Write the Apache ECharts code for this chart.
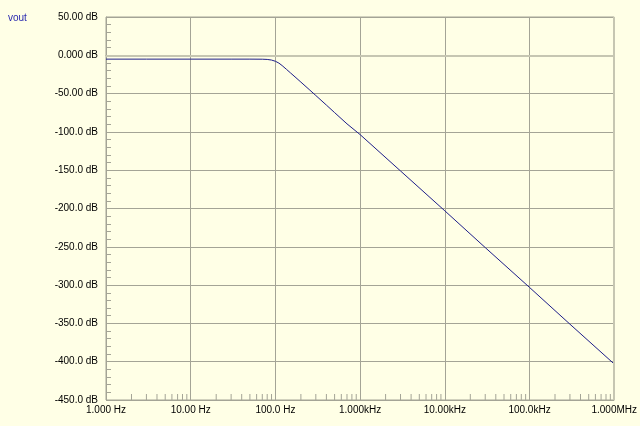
<!DOCTYPE html>
<html>
<head>
<meta charset="utf-8">
<script src="https://cdn.jsdelivr.net/npm/echarts@6/dist/echarts.min.js"></script>
<style>
html,body{margin:0;padding:0;background:#ffffe6;}
#c{width:640px;height:426px;}
</style>
</head>
<body>
<div id="c"></div>
<script>
// Frequency response (Hz, dB)
var freqs = [1, 3, 10, 30, 50, 70, 80, 90, 100, 110, 120, 135, 150, 175, 200, 250, 300, 400, 500, 700, 1000, 3000, 10000, 30000, 100000, 300000, 1000000];
var voutDb = [-5.0, -5.0, -5.0, -5.0, -5.0, -5.1, -5.4, -6.2, -7.8, -10.2, -13.4, -18.3, -22.8, -29.3, -35.0, -44.6, -52.5, -65.0, -74.8, -89.5, -103.5, -151.0, -203.0, -251.0, -303.0, -351.0, -403.0];
var seriesName = 'vout';
// Axis tick labels
var xTickValues = [1, 10, 100, 1000, 10000, 100000, 1000000];
var xTickLabels = ['1.000 Hz', '10.00 Hz', '100.0 Hz', '1.000kHz', '10.00kHz', '100.0kHz', '1.000MHz'];
var yTickValues = [50, 0, -50, -100, -150, -200, -250, -300, -350, -400, -450];
var yTickLabels = ['50.00 dB', '0.000 dB', '-50.00 dB', '-100.0 dB', '-150.0 dB', '-200.0 dB', '-250.0 dB', '-300.0 dB', '-350.0 dB', '-400.0 dB', '-450.0 dB'];
// Minor tick positions on the frequency axis (2..9 per decade)
var minorMult = [2, 3, 4, 5, 6, 7, 8, 9];
var decades = [1, 10, 100, 1000, 10000, 100000];

var minorFreqs = [];
decades.forEach(function (d) { minorMult.forEach(function (m) { minorFreqs.push([d * m]); }); });

var xLabelMap = {};
xTickValues.forEach(function (v, i) { xLabelMap[v] = xTickLabels[i]; });
var yLabelMap = {};
yTickValues.forEach(function (v, i) { yLabelMap[v] = yTickLabels[i]; });

var chart = echarts.init(document.getElementById('c'), null, {renderer: 'canvas'});
var gridColor = '#a4a496';
var font = '"Liberation Sans", Arial, sans-serif';

chart.setOption({
  backgroundColor: '#ffffe6',
  animation: false,
  graphic: [{
    type: 'text', left: 8, top: 13,
    style: {text: seriesName, fill: '#2a2ab0', font: '10px ' + font}
  }],
  grid: {left: 106, right: 25, top: 17, bottom: 26, show: true, borderColor: gridColor, borderWidth: 1},
  xAxis: {
    type: 'log', logBase: 10, min: 1, max: 1000000,
    axisLine: {show: true, lineStyle: {color: gridColor}},
    axisTick: {show: false},
    splitLine: {show: true, lineStyle: {color: gridColor, width: 1}},
    axisLabel: {
      color: '#000', fontSize: 10, fontFamily: font, margin: 5,
      formatter: function (v) { return xLabelMap[Math.round(v)] || ''; }
    }
  },
  yAxis: {
    type: 'value', min: -450, max: 50, interval: 50,
    axisLine: {show: true, lineStyle: {color: gridColor}},
    axisTick: {show: true, inside: true, length: 5, lineStyle: {color: gridColor}},
    minorTick: {show: true, splitNumber: 5, length: 5, lineStyle: {color: gridColor}},
    splitLine: {show: true, lineStyle: {color: gridColor, width: 1}},
    axisLabel: {
      color: '#000', fontSize: 10, fontFamily: font, margin: 8,
      formatter: function (v) { return yLabelMap[v] || ''; }
    }
  },
  series: [
    {
      type: 'custom',
      silent: true,
      data: minorFreqs,
      renderItem: function (params, api) {
        var p = api.coord([api.value(0), -450]);
        return {
          type: 'line',
          shape: {x1: p[0], y1: p[1], x2: p[0], y2: p[1] - 6},
          style: {stroke: gridColor, lineWidth: 1}
        };
      },
      z: 1
    },
    {
      type: 'line',
      name: seriesName,
      data: freqs.map(function (f, i) { return [f, voutDb[i]]; }),
      showSymbol: false,
      smooth: false,
      lineStyle: {color: '#1e1e8a', width: 1},
      markLine: {
        silent: true,
        symbol: 'none',
        label: {show: false},
        lineStyle: {color: '#c6c6b2', width: 2, type: 'solid'},
        data: [{yAxis: 0}, {xAxis: 1000000}]
      },
      z: 3
    }
  ]
});
</script>
</body>
</html>
